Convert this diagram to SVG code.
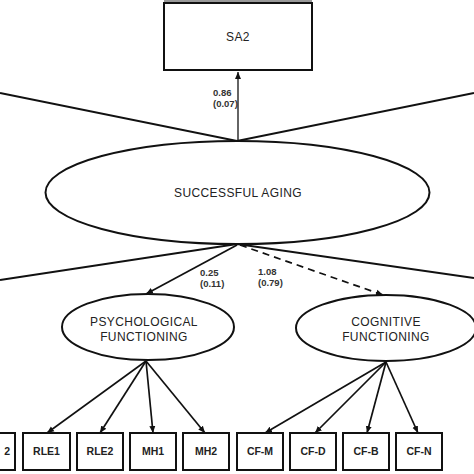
<svg xmlns="http://www.w3.org/2000/svg" width="474" height="474" viewBox="0 0 474 474">
<style>
.box{fill:#fff;stroke:#111;stroke-width:2}
.ell{fill:#fff;stroke:#111;stroke-width:2}
.lbl{font-family:"Liberation Sans",Arial,sans-serif;font-size:12px;letter-spacing:0.4px;fill:#222;text-anchor:middle}
.blbl{font-family:"Liberation Sans",Arial,sans-serif;font-size:10.5px;font-weight:bold;fill:#222;text-anchor:middle}
.coef{font-family:"Liberation Sans",Arial,sans-serif;font-size:9.5px;font-weight:bold;fill:#333}
.ln{stroke:#111;stroke-width:2.2;fill:none}
.arr{stroke:#111;stroke-width:1.7;fill:none;marker-end:url(#ah)}
</style>
<defs>
<marker id="ah" markerWidth="8" markerHeight="8" refX="7" refY="4" orient="auto" markerUnits="userSpaceOnUse">
<path d="M0,1 L7,4 L0,7 Z" fill="#111"/>
</marker>
</defs>
<rect width="474" height="474" fill="#fff"/>
<rect x="164" y="0" width="148" height="2" fill="#999"/>
<g id="connectors">
<path class="ln" d="M0,93 L237,141 L474,93"/>
<path class="ln" d="M0,280 L237,244 L474,278"/>
<line x1="238" y1="141" x2="238" y2="72" stroke="#111" stroke-width="1.3" marker-end="url(#ah)"/>
<line class="arr" x1="237" y1="245" x2="146" y2="294"/>
<line class="arr" x1="240" y1="245" x2="383" y2="295" stroke-dasharray="7,5"/>
<line class="arr" x1="146" y1="361" x2="47" y2="433"/>
<line class="arr" x1="146" y1="361" x2="100" y2="433"/>
<line class="arr" x1="146" y1="361" x2="153" y2="433"/>
<line class="arr" x1="146" y1="361" x2="205" y2="433"/>
<line class="arr" x1="386" y1="362" x2="265" y2="433"/>
<line class="arr" x1="386" y1="362" x2="315" y2="433"/>
<line class="arr" x1="386" y1="362" x2="367" y2="433"/>
<line class="arr" x1="386" y1="362" x2="418" y2="433"/>
<text class="coef" x="213" y="96">0.86</text>
<text class="coef" x="213" y="107">(0.07)</text>
<text class="coef" x="200" y="276">0.25</text>
<text class="coef" x="200" y="287">(0.11)</text>
<text class="coef" x="258" y="275">1.08</text>
<text class="coef" x="258" y="286">(0.79)</text>
</g>
<g id="SA2"><rect class="box" x="164" y="3" width="148" height="67"/><text class="lbl" x="238" y="41" font-size="13">SA2</text></g>
<g id="successful_aging"><ellipse class="ell" cx="237.5" cy="192.5" rx="192" ry="51.5"/><text class="lbl" x="238" y="197">SUCCESSFUL AGING</text></g>
<g id="psychological"><ellipse class="ell" cx="148" cy="327" rx="86" ry="33"/><text class="lbl" x="144" y="326">PSYCHOLOGICAL</text><text class="lbl" x="144" y="341">FUNCTIONING</text></g>
<g id="cognitive"><ellipse class="ell" cx="386" cy="328" rx="90" ry="33"/><text class="lbl" x="386" y="326">COGNITIVE</text><text class="lbl" x="386" y="341">FUNCTIONING</text></g>
<g id="box_x2"><rect class="box" x="-31" y="433" width="46" height="37"/><text class="blbl" x="10" y="455" style="text-anchor:end">2</text></g>
<g id="RLE1"><rect class="box" x="23" y="433" width="47" height="37"/><text class="blbl" x="46.5" y="455">RLE1</text></g>
<g id="RLE2"><rect class="box" x="77" y="433" width="46" height="37"/><text class="blbl" x="100" y="455">RLE2</text></g>
<g id="MH1"><rect class="box" x="130" y="433" width="46" height="37"/><text class="blbl" x="153" y="455">MH1</text></g>
<g id="MH2"><rect class="box" x="183" y="433" width="46" height="37"/><text class="blbl" x="206" y="455">MH2</text></g>
<g id="CF-M"><rect class="box" x="237" y="433" width="46" height="37"/><text class="blbl" x="260" y="455">CF-M</text></g>
<g id="CF-D"><rect class="box" x="290" y="433" width="46" height="37"/><text class="blbl" x="313" y="455">CF-D</text></g>
<g id="CF-B"><rect class="box" x="343" y="433" width="46" height="37"/><text class="blbl" x="366" y="455">CF-B</text></g>
<g id="CF-N"><rect class="box" x="396" y="433" width="46" height="37"/><text class="blbl" x="419" y="455">CF-N</text></g>
</svg>
